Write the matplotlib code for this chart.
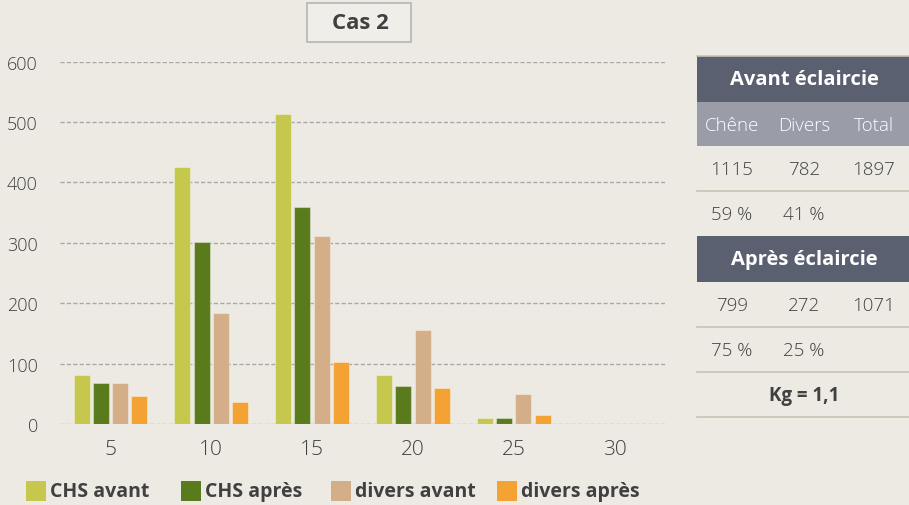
import matplotlib
matplotlib.use("Agg")
import numpy as np
import matplotlib.pyplot as plt
from matplotlib.patches import Rectangle
from matplotlib.lines import Line2D

categories = ["5", "10", "15", "20", "25", "30"]
chs_avant = [81, 426, 514, 81, 10, 0]
chs_apres = [68, 301, 360, 63, 10, 0]
divers_avant = [68, 183, 311, 156, 50, 0]
divers_apres = [46, 37, 103, 59, 15, 0]
series_names = ["CHS avant", "CHS après", "divers avant", "divers après"]
series_colors = ["#c5c84d", "#5a7b1b", "#d3ae88", "#f3a233"]
yticks = [0, 100, 200, 300, 400, 500, 600]
title = "Cas 2"

tab_head1 = "Avant éclaircie"
tab_cols = ["Chêne", "Divers", "Total"]
tab_avant = ["1115", "782", "1897"]
tab_avant_pct = ["59 %", "41 %", ""]
tab_head2 = "Après éclaircie"
tab_apres = ["799", "272", "1071"]
tab_apres_pct = ["75 %", "25 %", ""]
tab_kg = "Kg = 1,1"

bg = "#edeae4"
txt = "#404040"
W, H = 909, 506
plt.rcParams['font.family'] = ['Open Sans', 'DejaVu Sans']

fig = plt.figure(figsize=(W/100, H/100), dpi=100, facecolor=bg)

def fx(x): return x / W
def fy(y): return 1 - y / H

ax = fig.add_axes([fx(60), fy(425), (665-60)/W, (425-62.7)/H], facecolor=bg)
x = np.arange(len(categories))
width = 0.159
step = 0.191
for i, vals in enumerate([chs_avant, chs_apres, divers_avant, divers_apres]):
    ax.bar(x + (i - 1.5)*step, vals, width=width, color=series_colors[i],
           edgecolor=(1, 1, 1, 0.35), linewidth=0.8, zorder=3)
ax.set_xlim(-0.5, len(categories) - 0.5)
ax.set_ylim(0, 600)
ax.set_yticks(yticks)
ax.set_xticks(x)
ax.set_xticklabels(categories)
ax.yaxis.grid(True, color="#a8a8a8", linestyle=(0, (3, 1.6)), linewidth=1.0, zorder=0)
for s in ax.spines.values():
    s.set_visible(False)
ax.tick_params(axis='y', length=0, pad=16, labelsize=13, labelcolor=txt)
ax.tick_params(axis='x', length=0, pad=11, labelsize=15, labelcolor=txt)
for lab in ax.get_yticklabels() + ax.get_xticklabels():
    lab.set_fontweight('light')

# title box
fig.patches.append(Rectangle((fx(307), fy(43)), 104/W, 39/H, transform=fig.transFigure,
                             facecolor="#f0eee9", edgecolor="#b5b5b5", linewidth=1.2))
fig.text(fx(360), fy(24), title, ha='center', va='center', fontsize=16,
         fontweight='bold', color=txt)

# legend
leg_x = [26, 181, 331, 497]
for i, name in enumerate(series_names):
    fig.patches.append(Rectangle((fx(leg_x[i]), fy(502)), 20/W, 20/H, transform=fig.transFigure,
                                 facecolor=series_colors[i], edgecolor='none'))
    fig.text(fx(leg_x[i] + 24), fy(492), name, ha='left', va='center', fontsize=14,
             fontweight='bold', color=txt)

# table
tx0, tx1 = 697, 909
col_c = [732, 804, 874]
def band(y0, y1, color):
    fig.patches.append(Rectangle((fx(tx0), fy(y1)), (tx1-tx0)/W, (y1-y0)/H,
                                 transform=fig.transFigure, facecolor=color, edgecolor='none'))
def hline(y):
    fig.lines.append(Line2D([fx(tx0), fx(tx1)], [fy(y), fy(y)], transform=fig.transFigure,
                            color="#c9c3b3", linewidth=1.2))

hline(57)
band(57, 103, "#5a6070")
fig.text(fx(804), fy(80), tab_head1, ha='center', va='center', fontsize=14.5,
         fontweight='bold', color='white')
band(103, 147, "#9a9ca7")
for c, t in zip(col_c, tab_cols):
    fig.text(fx(c), fy(126), t, ha='center', va='center', fontsize=13.5,
             fontweight='light', color='white')
for c, t in zip(col_c, tab_avant):
    fig.text(fx(c), fy(170), t, ha='center', va='center', fontsize=13.5,
             fontweight='light', color=txt)
hline(191.5)
for c, t in zip(col_c, tab_avant_pct):
    fig.text(fx(c), fy(215), t, ha='center', va='center', fontsize=13.5,
             fontweight='light', color=txt)
band(237, 283, "#5a6070")
fig.text(fx(804), fy(260), tab_head2, ha='center', va='center', fontsize=14.5,
         fontweight='bold', color='white')
for c, t in zip(col_c, tab_apres):
    fig.text(fx(c), fy(306), t, ha='center', va='center', fontsize=13.5,
             fontweight='light', color=txt)
hline(328)
for c, t in zip(col_c, tab_apres_pct):
    fig.text(fx(c), fy(351), t, ha='center', va='center', fontsize=13.5,
             fontweight='light', color=txt)
hline(373)
fig.text(fx(804), fy(396), tab_kg, ha='center', va='center', fontsize=13.5,
         fontweight='bold', color=txt)
hline(418)

fig.savefig("out.png", dpi=100, facecolor=bg)
